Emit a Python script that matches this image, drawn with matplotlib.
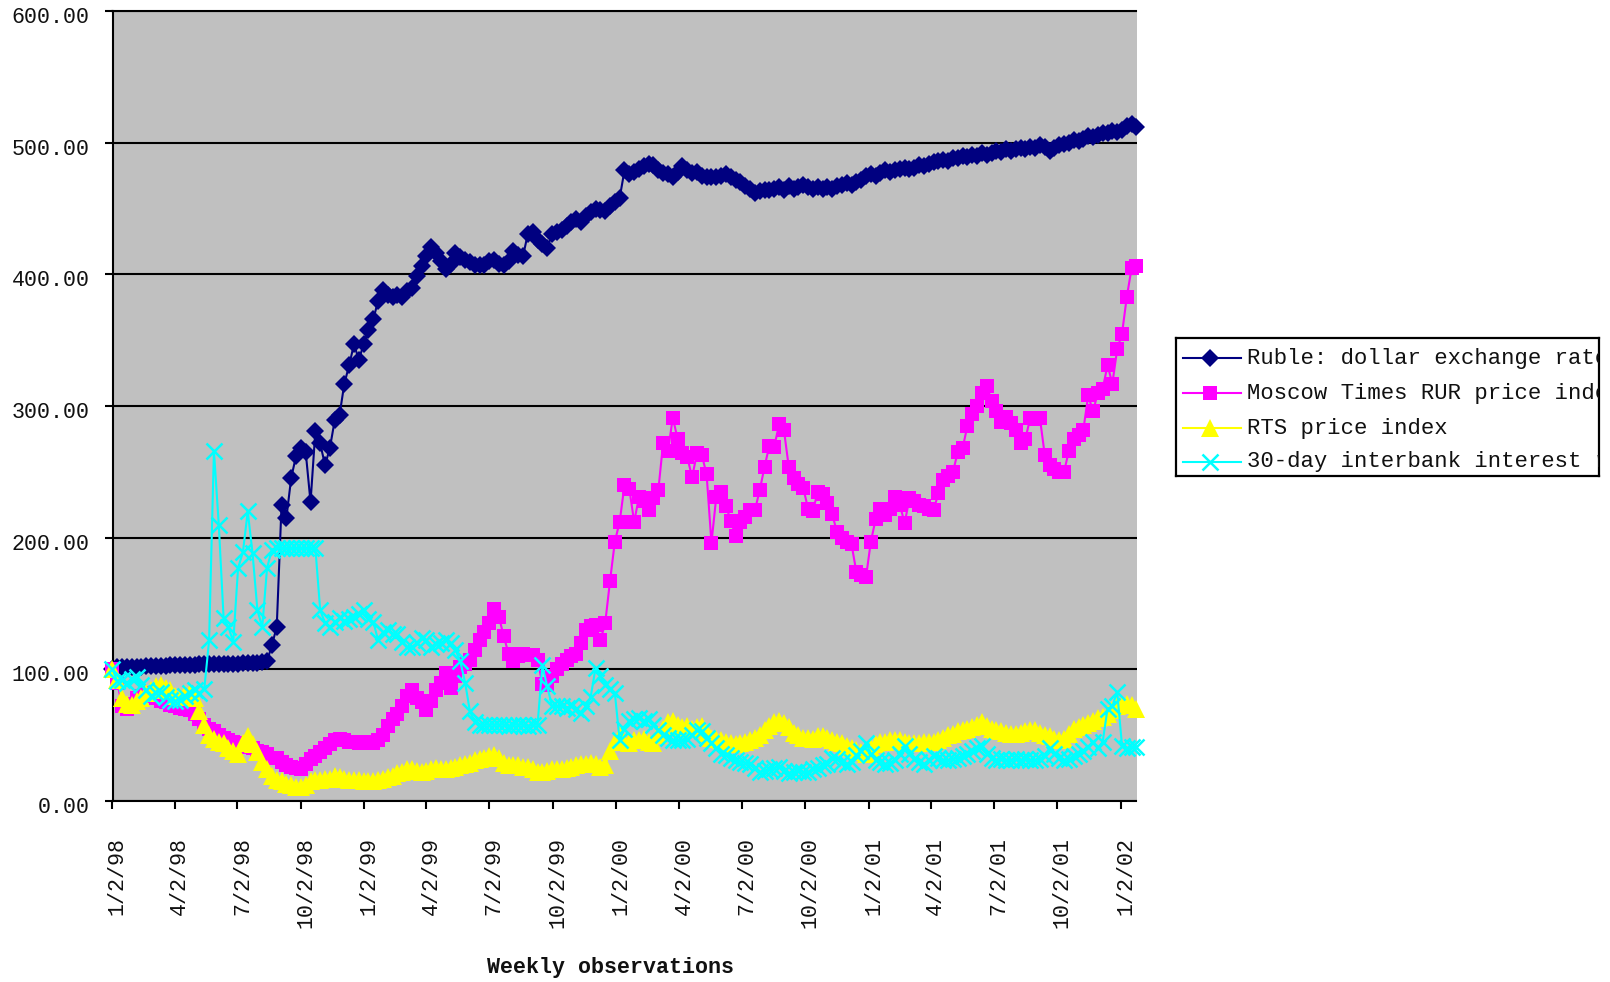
import matplotlib
matplotlib.use("Agg")
import matplotlib.pyplot as plt
import matplotlib.dates as mdates
from matplotlib.transforms import ScaledTranslation
import pandas as pd
from datetime import date

# Weekly observations, Friday 2 Jan 1998 through 25 Jan 2002 (index, 1/2/98 = 100)
dates = pd.date_range("1998-01-02", periods=213, freq="7D")

ruble = [
    100, 101.5, 101.8, 101.6, 101.9, 102.0, 102.1, 102.3, 102.2, 102.5,
    102.6, 102.8, 103.0, 103.3, 103.4, 103.5, 103.6, 103.6, 103.7, 103.8,
    103.9, 104.0, 104.0, 104.1, 104.2, 104.3, 104.4, 104.5, 104.6, 104.8,
    105.0, 105.2, 106.0, 118.5, 132, 225, 215, 245.5, 262, 268,
    265, 227, 281, 271.6, 255, 268, 289, 293, 317, 331,
    347, 335, 347, 358, 366, 380, 388, 384, 383, 384,
    383, 387, 390, 399, 406, 414, 421, 416, 410, 404,
    408, 416, 413, 411, 409, 407, 407, 407, 410, 411,
    408, 407, 410, 418, 415, 414, 431, 432, 426, 423,
    420, 431, 432, 434, 437, 440, 442, 440, 444, 447,
    450, 449, 448, 452, 455, 458, 479, 476, 478, 480,
    482, 484, 483, 479, 477, 476, 474, 478, 482, 479,
    477, 478, 475, 474, 474, 474, 475, 476, 474, 472,
    470, 467, 465, 462, 463, 464, 464, 465, 466, 464,
    467, 465, 466, 468, 466, 465, 466, 465, 466, 465,
    467, 468, 469, 468, 470, 472, 475, 476, 475, 477,
    479, 478, 479, 480, 481, 480, 481, 483, 482, 484,
    485, 486, 487, 486, 488, 488, 490, 489, 491, 490,
    492, 491, 492, 494, 493, 495, 494, 495, 496, 495,
    497, 496, 498, 497, 494, 496, 498, 499, 500, 502,
    501, 503, 505, 504, 506, 507, 507, 509, 508, 510,
    513, 514, 512,
]

moscow_times = [
    100, 90, 72, 70, 74, 78, 80, 82, 80, 78,
    76, 75, 73, 72, 71, 70, 69, 66, 62, 58,
    55, 53, 50, 48, 46, 45, 44, 42, 41, 40,
    38, 37, 36, 33, 33, 30, 27, 26, 25, 24,
    28, 32, 34, 37, 40, 43, 46, 47, 46, 45,
    45, 44, 45, 44, 44, 46, 50, 57, 62, 66,
    72, 80, 84, 78, 75, 69, 76, 84, 90, 97,
    86, 95, 102, 104, 107, 115, 122, 128, 135, 146,
    140, 125, 112, 106, 110, 112, 111, 111, 107, 89,
    88, 95, 100, 104, 107, 110, 112, 120, 130, 133,
    134, 122, 135, 167, 197, 212, 240, 237, 212, 231,
    228, 221, 230, 236, 272, 266, 291, 275, 264, 261,
    246, 264, 263, 248, 196, 231, 235, 224, 213, 201,
    212, 216, 221, 221, 236, 254, 270, 269, 286, 282,
    254, 245, 241, 238, 222, 220, 235, 233, 226, 218,
    204, 200, 197, 195, 174, 172, 170, 197, 214, 222,
    217, 222, 231, 225, 211, 230, 228, 225, 224, 222,
    221, 234, 244, 247, 250, 265, 268, 285, 294, 300,
    310, 315, 304, 296, 288, 292, 287, 282, 272, 275,
    291, 290, 291, 263, 255, 252, 250, 250, 266, 275,
    278, 282, 308, 296, 310, 313, 331, 317, 343, 355,
    383, 405, 406,
]

rts = [
    100, 92, 78, 74, 73, 76, 78, 82, 84, 87,
    88, 86, 84, 80, 79, 81, 82, 78, 68, 58,
    50, 47, 45, 44, 40, 38, 36, 44, 49, 43,
    37, 30, 24, 19, 16, 15, 13, 12, 11, 11,
    12, 15, 16, 16, 17, 17, 19, 18, 17, 16,
    16, 16, 15, 15, 15, 16, 17, 18, 19, 21,
    22, 24, 24, 23, 22, 23, 24, 25, 24, 24,
    25, 26, 27, 28, 29, 31, 32, 33, 34, 35,
    33, 29, 27, 27, 27, 26, 26, 24, 22, 22,
    23, 24, 24, 24, 25, 26, 27, 28, 28, 29,
    28, 26, 27, 38, 45, 49, 45, 44, 46, 46,
    47, 45, 44, 50, 55, 60, 61, 58, 56, 57,
    55, 56, 57, 52, 48, 47, 46, 45, 44, 43,
    44, 45, 46, 48, 50, 54, 57, 60, 61, 59,
    56, 52, 50, 48, 48, 47, 49, 49, 48, 46,
    45, 44, 42, 40, 39, 37, 36, 40, 43, 45,
    45, 46, 46, 46, 45, 44, 44, 44, 45, 45,
    45, 46, 48, 50, 51, 53, 54, 55, 56, 58,
    60, 57, 55, 54, 53, 52, 51, 51, 52, 53,
    54, 54, 52, 50, 49, 47, 46, 47, 51, 55,
    56, 58, 59, 61, 63, 64, 66, 69, 72, 73,
    74, 73, 70,
]

interbank = [
    100, 91, 92, 90, 93, 94, 88, 84, 80, 82,
    83, 79, 77, 76, 77, 80, 82, 84, 82, 85,
    122, 266, 210, 139, 132, 121, 177, 189, 220, 188,
    145, 132, 177, 191, 192, 192, 192, 192, 192, 192,
    192, 192, 192, 145, 135, 132, 136, 139, 137, 138,
    140, 142, 145, 138, 136, 122, 128, 130, 127, 127,
    121, 117, 117, 120, 124, 122, 117, 119, 120, 122,
    120, 115, 106, 90, 68, 60, 58, 58, 58, 58,
    58, 58, 57, 58, 58, 58, 57, 58, 58, 103,
    87, 72, 72, 72, 71, 72, 70, 67, 72, 79,
    101, 95, 88, 85, 82, 46, 55, 61, 62, 63,
    61, 62, 58, 54, 50, 48, 46, 46, 46, 47,
    50, 54, 53, 48, 44, 40, 36, 35, 33, 31,
    30, 29, 28, 25, 22, 23, 24, 25, 26, 23,
    21, 22, 23, 22, 22, 24, 25, 27, 28, 33,
    32, 30, 28, 30, 35, 38, 44, 36, 31, 30,
    28, 29, 31, 36, 42, 36, 32, 30, 28, 31,
    34, 33, 31, 31, 32, 33, 34, 36, 38, 40,
    42, 36, 33, 31, 32, 31, 31, 32, 31, 32,
    31, 31, 32, 34, 40, 36, 33, 31, 32, 34,
    36, 38, 41, 45, 40, 45, 70, 72, 83, 42,
    40, 41, 41,
]

series_names = [
    "Ruble: dollar exchange rate",
    "Moscow Times RUR price index",
    "RTS price index",
    "30-day interbank interest rate",
]
series_values = [ruble, moscow_times, rts, interbank]
styles = [
    dict(color="#000080", marker="D", ms=9.5, mew=0),
    dict(color="#FF00FF", marker="s", ms=10.5, mew=0),
    dict(color="#FFFF00", marker="^", ms=12.5, mew=0),
    dict(color="#00FFFF", marker="x", ms=12, mew=1.8),
]

tick_dates = [date(y, m, 2) for y in range(1998, 2003) for m in (1, 4, 7, 10)
              if date(y, m, 2) <= date(2002, 1, 2)]
tick_labels = [f"{d.month}/{d.day}/{d.year % 100:02d}" for d in tick_dates]

y_ticks = [0, 100, 200, 300, 400, 500, 600]

MONO = "Liberation Mono"
FS = 15.6
TEXT_COLOR = "#111111"

W, H = 1610, 982
fig = plt.figure(figsize=(W / 100, H / 100), dpi=100)
fig.patch.set_facecolor("white")

left, right, top, bottom = 112.5, 1136.5, 11, 801
ax = fig.add_axes([left / W, 1 - bottom / H, (right - left) / W, (bottom - top) / H])
ax.set_facecolor("#C0C0C0")

for vals, st in zip(series_values, styles):
    ax.plot(dates, vals, color=st["color"], lw=1.5, marker=st["marker"],
            ms=st["ms"], mew=st["mew"], mec=st["color"], mfc=st["color"],
            clip_on=False, zorder=3)

ax.set_xlim(mdates.date2num(dates[0]), mdates.date2num(dates[-1]))
ax.set_ylim(0, 600)
ax.set_yticks(y_ticks)
ax.set_yticklabels([f"{v:.2f}" for v in y_ticks], fontfamily=MONO, fontsize=FS)
ax.set_xticks([mdates.date2num(d) for d in tick_dates])
ax.set_xticklabels(tick_labels, fontfamily=MONO, fontsize=FS, rotation=90)

ax.yaxis.grid(True, color="black", lw=1.5)
ax.set_axisbelow(True)
for side in ("left", "bottom", "top"):
    ax.spines[side].set_color("black")
    ax.spines[side].set_linewidth(1.5)
ax.spines["right"].set_visible(False)

ax.tick_params(axis="y", direction="out", length=6, width=1.5, color="black",
               pad=10.5, labelcolor=TEXT_COLOR)
ax.tick_params(axis="x", direction="out", length=6, width=1.5, color="black",
               pad=20, labelcolor=TEXT_COLOR)

# small nudges of the tick labels: x labels right, y labels down
for lab in ax.get_xticklabels():
    lab.set_transform(lab.get_transform() + ScaledTranslation(5 / 100, 0, fig.dpi_scale_trans))
for lab in ax.get_yticklabels():
    lab.set_transform(lab.get_transform() + ScaledTranslation(0, -4 / 100, fig.dpi_scale_trans))

fig.text(610 / W, 1 - 967 / H, "Weekly observations", ha="center", va="center",
         fontfamily=MONO, fontsize=FS, fontweight="bold", color=TEXT_COLOR)

# Legend box with entries clipped at its frame
lx0, lx1, ly0, ly1 = 1176, 1599, 338, 476
lax = fig.add_axes([lx0 / W, 1 - ly1 / H, (lx1 - lx0) / W, (ly1 - ly0) / H])
lax.set_xlim(0, lx1 - lx0)
lax.set_ylim(ly1 - ly0, 0)
lax.set_xticks([])
lax.set_yticks([])
lax.set_facecolor("white")
for sp in lax.spines.values():
    sp.set_color("black")
    sp.set_linewidth(1.6)
rows = [20.5, 55.3, 90.3, 123.7]
for name, st, ry in zip(series_names, styles, rows):
    lax.plot([6.7, 64.7], [ry, ry], color=st["color"], lw=1.5)
    lax.plot([34], [ry], color=st["color"], marker=st["marker"], ms=st["ms"],
             mew=st["mew"], mec=st["color"], mfc=st["color"], linestyle="none")
    lax.text(71.3, ry, name, ha="left", va="center", fontfamily=MONO,
             fontsize=16, color=TEXT_COLOR, clip_on=True)

fig.savefig("out.png", dpi=100)
